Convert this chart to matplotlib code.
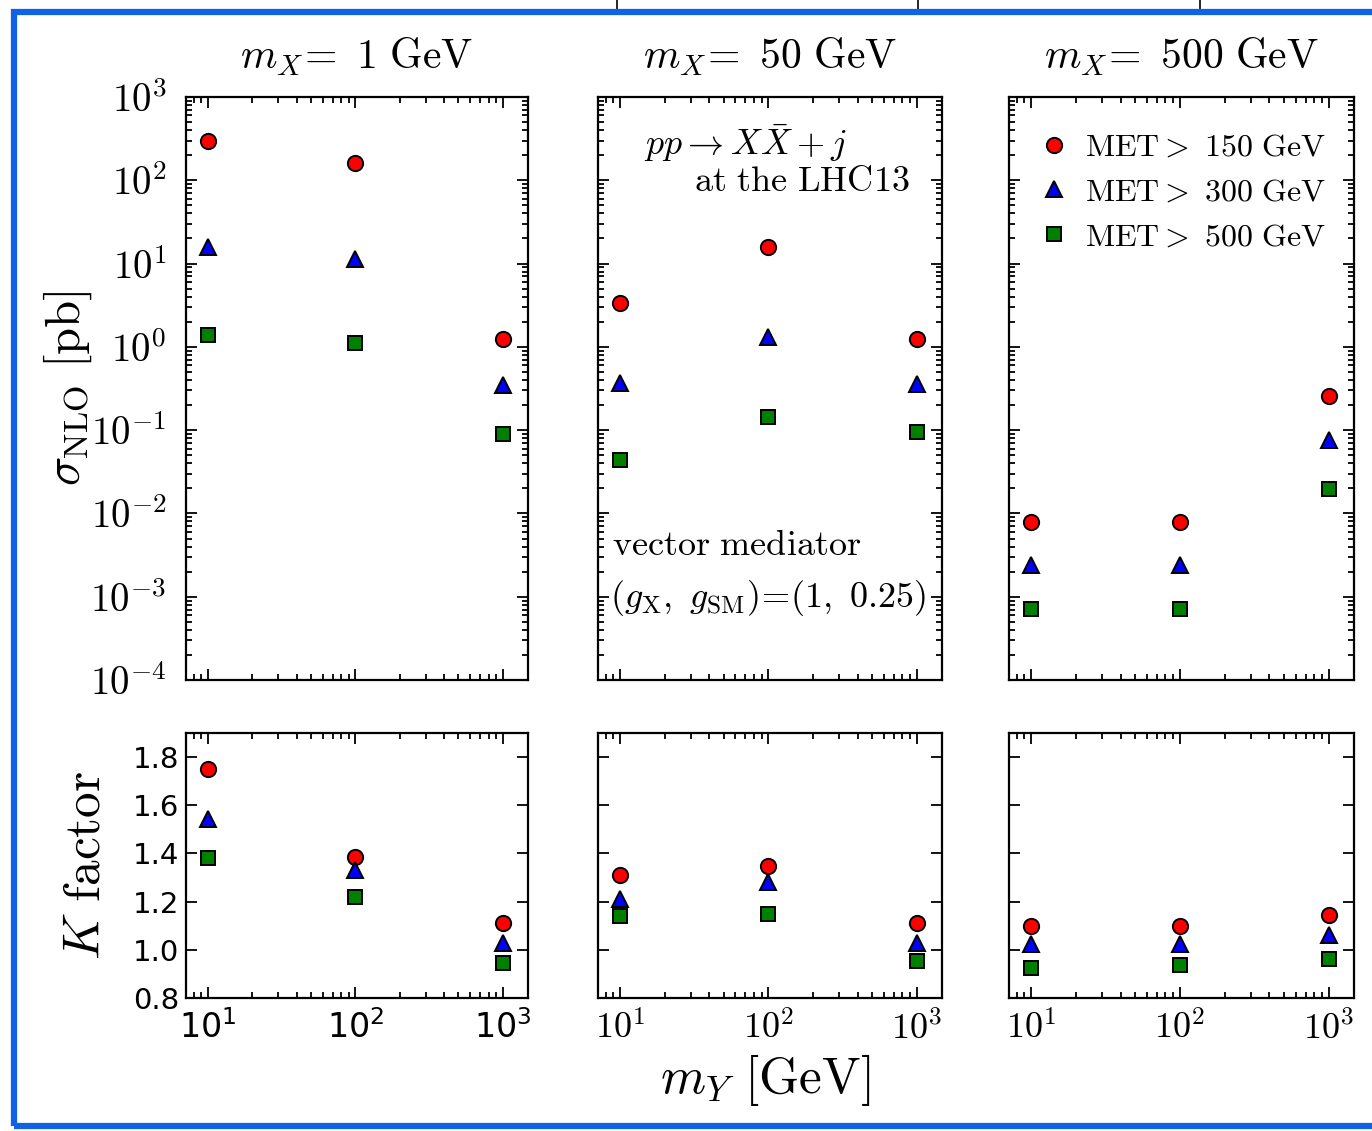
import matplotlib
matplotlib.use('Agg')
import matplotlib.pyplot as plt
from matplotlib.lines import Line2D
from matplotlib.patches import Rectangle
from matplotlib.ticker import LogLocator, NullFormatter, FixedLocator

plt.rcParams['mathtext.fontset'] = 'cm'
plt.rcParams['font.family'] = 'DejaVu Sans'

# mediator mass scan
m_Y = [10, 100, 1000]
m_X = ['1', '50', '500']
met_cuts = ['150', '300', '500']

# NLO cross sections [pb], rows = MET > 150 / 300 / 500 GeV
sigma_mx1 = [[295, 162, 1.24],
             [16.0, 11.4, 0.35],
             [1.39, 1.12, 0.090]]
sigma_mx50 = [[3.37, 15.8, 1.24],
              [0.37, 1.32, 0.36],
              [0.044, 0.144, 0.095]]
sigma_mx500 = [[0.0079, 0.0079, 0.257],
               [0.0024, 0.0024, 0.076],
               [0.00071, 0.00071, 0.0196]]

# K factors, same layout
k_mx1 = [[1.75, 1.387, 1.11],
         [1.544, 1.33, 1.03],
         [1.38, 1.22, 0.945]]
k_mx50 = [[1.31, 1.35, 1.11],
          [1.21, 1.28, 1.03],
          [1.14, 1.15, 0.955]]
k_mx500 = [[1.10, 1.10, 1.145],
           [1.025, 1.025, 1.06],
           [0.925, 0.935, 0.96]]

sigmas = [sigma_mx1, sigma_mx50, sigma_mx500]
kfacs = [k_mx1, k_mx50, k_mx500]

styles = [('o', 'r', 11), ('^', 'b', 12), ('s', 'g', 10.5)]

W, H = 1372, 1131
fig = plt.figure(figsize=(W / 100., H / 100.), dpi=100)

cols = [(186, 342), (598, 344), (1009, 345)]
top_row = (97, 680)
bot_row = (733, 998)

def frac(x0, w, y0, y1):
    return [x0 / float(W), 1 - y1 / float(H), w / float(W), (y1 - y0) / float(H)]

def style_ax(ax):
    for s in ax.spines.values():
        s.set_linewidth(1.6)
    ax.tick_params(which='both', direction='in', top=True, right=True, width=1.3)
    ax.tick_params(which='major', length=8)
    ax.tick_params(which='minor', length=4)
    ax.tick_params(axis='x', pad=9)
    ax.set_xscale('log')
    ax.set_xlim(7.1, 1480)
    ax.xaxis.set_major_locator(FixedLocator([10, 100, 1000]))
    ax.xaxis.set_minor_locator(LogLocator(subs=range(2, 10)))
    ax.xaxis.set_minor_formatter(NullFormatter())

exps = range(-4, 4)
for i, (x0, w) in enumerate(cols):
    # upper: cross sections
    ax = fig.add_axes(frac(x0, w, *top_row))
    style_ax(ax)
    ax.set_yscale('log')
    ax.set_ylim(1e-4, 1e3)
    ax.yaxis.set_major_locator(FixedLocator([10.0 ** e for e in exps]))
    ax.yaxis.set_minor_locator(LogLocator(subs=range(2, 10), numticks=20))
    ax.yaxis.set_minor_formatter(NullFormatter())
    ax.set_xticklabels([])
    if i == 0:
        ax.set_yticks([10.0 ** e for e in exps], labels=[r'$10^{%d}$' % e for e in exps],
                      fontsize=28, math_fontfamily='cm')
        ax.tick_params(axis='y', pad=14)
    else:
        ax.set_yticklabels([])
    for (mk, c, ms), vals, cut in zip(styles, sigmas[i], met_cuts):
        ax.plot(m_Y, vals, ls='none', marker=mk, color=c, ms=ms, mec='k', mew=1.4,
                label=r'$\mathrm{MET}>\ \mathrm{%s\ GeV}$' % cut)
    fig.text((x0 + w / 2.) / W, 1 - 57. / H, r'$m_X\!=\ \mathrm{%s\ GeV}$' % m_X[i],
             ha='center', va='center', fontsize=30)
    if i == 1:
        ax.text(0.43, 0.921, r'$pp\rightarrow X\bar{X}+j$', transform=ax.transAxes,
                ha='center', va='center', fontsize=26)
        ax.text(0.905, 0.856, r'$\mathrm{at\ the\ LHC13}$', transform=ax.transAxes,
                ha='right', va='center', fontsize=26)
        ax.text(0.04, 0.232, r'$\mathrm{vector\ mediator}$', transform=ax.transAxes,
                ha='left', va='center', fontsize=26)
        ax.text(0.035, 0.141, r'$(g_{\rm X},\ g_{\rm SM})\!=\!(1,\ 0.25)$',
                transform=ax.transAxes, ha='left', va='center', fontsize=26)
    if i == 2:
        ax.legend(loc='upper left', numpoints=1, frameon=False, fontsize=23,
                  handlelength=1.0, handletextpad=0.47, labelspacing=0.43,
                  borderaxespad=0.0, bbox_to_anchor=(0.046, 0.962))

    # lower: K factors
    ax = fig.add_axes(frac(x0, w, *bot_row))
    style_ax(ax)
    ax.set_ylim(0.8, 1.9)
    kt = [0.8, 1.0, 1.2, 1.4, 1.6, 1.8]
    if i == 0:
        ax.set_yticks(kt, labels=['%.1f' % t for t in kt], fontsize=21)
        ax.tick_params(axis='y', pad=5)
        ax.set_xticks(m_Y, labels=[r'$10^{%d}$' % e for e in (1, 2, 3)],
                      fontsize=24, math_fontfamily='dejavusans')
    else:
        ax.set_yticks(kt)
        ax.set_yticklabels([])
        ax.set_xticks(m_Y, labels=[r'$10^{%d}$' % e for e in (1, 2, 3)],
                      fontsize=26, math_fontfamily='cm')
    for (mk, c, ms), vals in zip(styles, kfacs[i]):
        ax.plot(m_Y, vals, ls='none', marker=mk, color=c, ms=ms, mec='k', mew=1.4)

fig.text(68. / W, 1 - 388. / H, r'$\sigma_{\rm NLO}\ [\mathrm{pb}]$', rotation=90,
         ha='center', va='center', fontsize=35)
fig.text(86. / W, 1 - 865. / H, r'$K\ \mathrm{factor}$', rotation=90,
         ha='center', va='center', fontsize=37)
fig.text(765. / W, 1 - 1080. / H, r'$m_Y\ [\mathrm{GeV}]$',
         ha='center', va='center', fontsize=37)

# blue frame and stray marks at the top edge
fig.patches.append(Rectangle((14. / W, 1 - 1126. / H), 1.05, (1126. - 12.) / H,
                             transform=fig.transFigure, fill=False,
                             ec='#0f62e6', lw=4.5, zorder=10))
for xt in (617, 918, 1200):
    fig.lines.append(Line2D([xt / float(W)] * 2, [1.0, 1 - 9. / H],
                            transform=fig.transFigure, color='k', lw=1.2))

fig.savefig('out.png', dpi=100)
